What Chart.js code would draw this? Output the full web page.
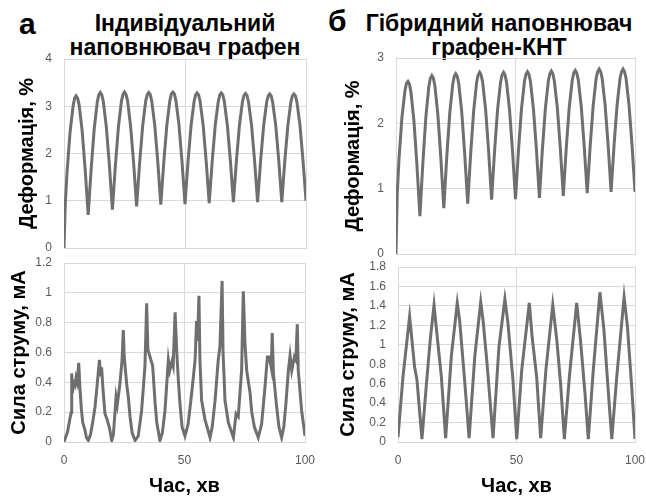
<!DOCTYPE html>
<html lang="uk">
<head>
<meta charset="UTF-8">
<script src="https://cdn.jsdelivr.net/npm/chart.js@4.4.1/dist/chart.umd.min.js"></script>
<style>
body{margin:0;background:#fff;width:646px;height:499px;position:relative;overflow:hidden;font-family:"Liberation Sans",Arial,sans-serif}
canvas{position:absolute}
.t{position:absolute;font-weight:bold;color:#000;text-align:center;white-space:nowrap}
</style>
</head>
<body>
<div class="t" style="left:19px;top:7px;font-size:30px;line-height:34px">а</div>
<div class="t" style="left:60px;top:11px;width:250px;font-size:23px;line-height:24px">Індивідуальний<br>наповнювач графен</div>
<div class="t" style="left:328px;top:4px;font-size:30px;line-height:34px">б</div>
<div class="t" style="left:364px;top:11px;width:270px;font-size:23px;line-height:24px">Гібридний наповнювач<br>графен-КНТ</div>

<canvas id="c1" width="312" height="210" style="left:0;top:50px"></canvas>
<canvas id="c2" width="318" height="244" style="left:0;top:255px"></canvas>
<canvas id="c3" width="323" height="210" style="left:323px;top:50px"></canvas>
<canvas id="c4" width="323" height="241" style="left:323px;top:258px"></canvas>

<script>
// час для кривих деформації, хв
var timeStrain = [0, 0.5, 1.25, 2.5, 3.75, 4.375, 5,
  5.625, 6.25, 7.5, 8.75, 10, 11.25, 12.5, 13.75, 14.375, 15,
  15.625, 16.25, 17.5, 18.75, 20, 21.25, 22.5, 23.75, 24.375, 25,
  25.625, 26.25, 27.5, 28.75, 30, 31.25, 32.5, 33.75, 34.375, 35,
  35.625, 36.25, 37.5, 38.75, 40, 41.25, 42.5, 43.75, 44.375, 45,
  45.625, 46.25, 47.5, 48.75, 50, 51.25, 52.5, 53.75, 54.375, 55,
  55.625, 56.25, 57.5, 58.75, 60, 61.25, 62.5, 63.75, 64.375, 65,
  65.625, 66.25, 67.5, 68.75, 70, 71.25, 72.5, 73.75, 74.375, 75,
  75.625, 76.25, 77.5, 78.75, 80, 81.25, 82.5, 83.75, 84.375, 85,
  85.625, 86.25, 87.5, 88.75, 90, 91.25, 92.5, 93.75, 94.375, 95,
  95.625, 96.25, 97.5, 98.75, 100];

// а) графен - деформація, %
var strainA = [0, 0.9, 1.6, 2.45, 3.0, 3.17, 3.22,
  3.17, 3.03, 2.48, 1.66, 0.70, 1.69, 2.53, 3.09, 3.24, 3.29,
  3.24, 3.10, 2.56, 1.76, 0.81, 1.76, 2.57, 3.11, 3.25, 3.30,
  3.25, 3.12, 2.59, 1.81, 0.88, 1.80, 2.58, 3.11, 3.24, 3.29,
  3.25, 3.11, 2.60, 1.83, 0.92, 1.83, 2.60, 3.12, 3.26, 3.30,
  3.26, 3.12, 2.61, 1.84, 0.93, 1.83, 2.59, 3.10, 3.24, 3.28,
  3.24, 3.10, 2.60, 1.84, 0.95, 1.84, 2.60, 3.10, 3.24, 3.28,
  3.24, 3.10, 2.60, 1.85, 0.97, 1.85, 2.60, 3.10, 3.23, 3.27,
  3.23, 3.09, 2.60, 1.85, 0.97, 1.85, 2.59, 3.09, 3.22, 3.26,
  3.22, 3.08, 2.59, 1.85, 0.97, 1.85, 2.59, 3.09, 3.22, 3.26,
  3.22, 3.09, 2.60, 1.86, 1.00];

// б) графен-КНТ - деформація, %
var strainB = [0, 0.9, 1.45, 2.1, 2.5, 2.61, 2.64,
  2.60, 2.48, 2.04, 1.37, 0.58, 1.40, 2.10, 2.57, 2.69, 2.73,
  2.69, 2.58, 2.14, 1.48, 0.70, 1.49, 2.16, 2.60, 2.72, 2.76,
  2.72, 2.61, 2.18, 1.53, 0.77, 1.54, 2.19, 2.63, 2.74, 2.78,
  2.74, 2.63, 2.21, 1.58, 0.83, 1.58, 2.21, 2.63, 2.74, 2.78,
  2.74, 2.63, 2.21, 1.58, 0.84, 1.59, 2.22, 2.64, 2.75, 2.79,
  2.75, 2.64, 2.22, 1.60, 0.86, 1.60, 2.23, 2.65, 2.76, 2.80,
  2.76, 2.65, 2.24, 1.62, 0.89, 1.63, 2.25, 2.66, 2.77, 2.81,
  2.77, 2.67, 2.26, 1.65, 0.93, 1.66, 2.27, 2.69, 2.79, 2.83,
  2.79, 2.69, 2.28, 1.67, 0.95, 1.67, 2.28, 2.69, 2.79, 2.83,
  2.79, 2.69, 2.28, 1.67, 0.95];

// а) сила струму, мА
var timeCurA = [0, 0.4, 1.5, 2.5, 3.0, 3.2, 3.5, 4.0, 4.6, 5.0, 5.5, 6.1, 6.6, 7.2, 7.8, 8.7, 9.3, 10.1,
  11.0, 12.0, 12.9, 13.8, 14.7, 15.2, 15.6, 16.2, 17.0, 17.7, 18.8, 19.8,
  20.5, 21.2, 21.6, 22.1, 23.2, 24.1, 24.6, 25.0, 26.0, 26.7, 27.4, 28.3, 29.5,
  30.8, 32.2, 33.6, 34.3, 34.8, 35.7, 36.8, 37.8, 38.5, 39.8,
  40.8, 41.9, 43.3, 43.9, 44.8, 45.3, 46.1, 46.8, 47.5, 48.1, 49.0, 50.2,
  51.5, 53.0, 54.4, 55.0, 55.4, 56.0, 56.4, 57.1, 58.5, 60.6,
  61.5, 62.7, 64.0, 64.7, 65.6, 66.0, 66.8, 68.2, 70.3,
  71.4, 72.3, 73.7, 74.4, 75.1, 75.8, 77.2, 77.9, 79.0, 80.6,
  82.0, 83.4, 84.4, 85.2, 86.0, 86.4, 86.9, 88.2, 89.2, 90.3,
  91.2, 92.1, 93.1, 93.8, 94.5, 95.6, 96.2, 96.8, 97.2, 98.6, 100];
var currentA = [0, 0, 0.07, 0.16, 0.2, 0.46, 0.33, 0.40, 0.38, 0.43, 0.40, 0.53, 0.37, 0.22, 0.13, 0.08, 0.03, 0.01,
  0.05, 0.14, 0.24, 0.39, 0.55, 0.44, 0.50, 0.35, 0.19, 0.16, 0.10, 0.01,
  0.05, 0.21, 0.30, 0.25, 0.39, 0.55, 0.75, 0.57, 0.39, 0.30, 0.17, 0.06, 0.01,
  0.04, 0.21, 0.51, 0.93, 0.62, 0.57, 0.51, 0.26, 0.13, 0.01,
  0.06, 0.21, 0.55, 0.48, 0.54, 0.51, 0.87, 0.60, 0.40, 0.26, 0.10, 0.04,
  0.12, 0.33, 0.55, 0.81, 0.68, 0.98, 0.55, 0.28, 0.15, 0.03,
  0.10, 0.28, 0.55, 0.64, 1.08, 0.60, 0.28, 0.13, 0.03,
  0.19, 0.17, 0.48, 1.01, 0.66, 0.48, 0.33, 0.20, 0.10, 0.03,
  0.12, 0.37, 0.57, 0.57, 0.50, 0.73, 0.46, 0.24, 0.10, 0.03,
  0.10, 0.26, 0.48, 0.58, 0.48, 0.57, 0.55, 0.79, 0.48, 0.21, 0.04];

// б) сила струму, мА
var timeCurB = [0, 2.1, 3.5, 4.9, 5.6, 7.0, 8.0, 10.1, 11.9, 13.6, 15.2, 16.1, 18.3, 20.1,
  22.5, 25.0, 26.0, 28.1, 30.0, 32.4, 34.9, 35.9, 37.7, 40.1,
  42.6, 45.1, 46.4, 48.5, 50.1, 52.2, 55.4, 56.6, 58.5, 60.2,
  62.4, 65.3, 67.0, 68.6, 70.2, 72.3, 75.4, 77.1, 78.9, 80.3,
  82.4, 85.2, 86.9, 88.7, 90.2, 92.3, 95.4, 96.8, 98.6, 100];
var currentB = [0.05, 0.67, 0.98, 1.29, 1.12, 0.77, 0.64, 0.03, 0.57, 1.05, 1.41, 1.19, 0.67, 0.04,
  0.88, 1.43, 1.25, 0.64, 0.04, 0.88, 1.44, 1.25, 0.77, 0.04,
  0.98, 1.47, 1.22, 0.64, 0.03, 0.74, 1.43, 1.08, 0.67, 0.04,
  0.74, 1.41, 1.05, 0.60, 0.03, 0.67, 1.43, 1.02, 0.50, 0.03,
  0.74, 1.54, 1.15, 0.53, 0.03, 0.67, 1.49, 1.19, 0.57, 0.03];

Chart.defaults.font.family = '"Liberation Sans", Arial, sans-serif';
Chart.defaults.color = '#595959';

// no automatic label padding: the chart area comes only from layout.padding
function noPad(s) {
  s.paddingTop = 0; s.paddingBottom = 0; s.paddingLeft = 0; s.paddingRight = 0;
}

function panel(id, xs, ys, yMax, yStep, yTitle, lay) {
  var pts = xs.map(function (x, i) { return {x: x, y: ys[i]}; });
  return new Chart(document.getElementById(id), {
    type: 'line',
    data: {datasets: [{data: pts, borderColor: '#6f6f6f', borderWidth: 3, pointRadius: 0, tension: 0, fill: false}]},
    options: {
      responsive: false, animation: false, devicePixelRatio: 1,
      layout: {padding: {left: 0, top: lay.pt, right: lay.pr, bottom: lay.pb}},
      plugins: {legend: {display: false}, tooltip: {enabled: false}},
      scales: {
        x: {
          type: 'linear', min: 0, max: 100,
          ticks: {display: lay.xLab, stepSize: 50, padding: 11, font: {size: 12}},
          grid: {color: '#d9d9d9', drawTicks: false},
          border: {color: '#d9d9d9'},
          title: {display: lay.xLab, text: 'Час, хв', color: '#000', font: {size: 20, weight: 'bold'}, padding: {top: 0, bottom: 1}},
          afterFit: function (s) { s.height = lay.xh; noPad(s); }
        },
        y: {
          min: 0, max: yMax,
          ticks: {stepSize: yStep, padding: 12, font: {size: 12},
            callback: function (v) { return String(Math.round(v * 10) / 10); }},
          grid: {color: '#d9d9d9', drawTicks: false},
          border: {color: '#d9d9d9'},
          title: {display: true, text: yTitle, color: '#000', font: {size: 20, weight: 'bold'}, padding: {top: lay.ytp, bottom: 0}},
          afterFit: function (s) { s.width = lay.yw; noPad(s); }
        }
      }
    }
  });
}

panel('c1', timeStrain, strainA, 4, 1, 'Деформація, %', {pt: 9, pr: 6, pb: 12, xh: 0, yw: 64, ytp: 15.6, xLab: false});
panel('c2', timeCurA, currentA, 1.2, 0.2, 'Сила струму, мА', {pt: 8, pr: 13, pb: 0, xh: 57, yw: 64, ytp: 7.6, xLab: true});
panel('c3', timeStrain, strainB, 3, 1, 'Деформація, %', {pt: 8, pr: 11, pb: 6, xh: 0, yw: 73, ytp: 18.6, xLab: false});
panel('c4', timeCurB, currentB, 1.8, 0.2, 'Сила струму, мА', {pt: 9, pr: 11, pb: 0, xh: 57, yw: 75, ytp: 13.6, xLab: true});
</script>
</body>
</html>
